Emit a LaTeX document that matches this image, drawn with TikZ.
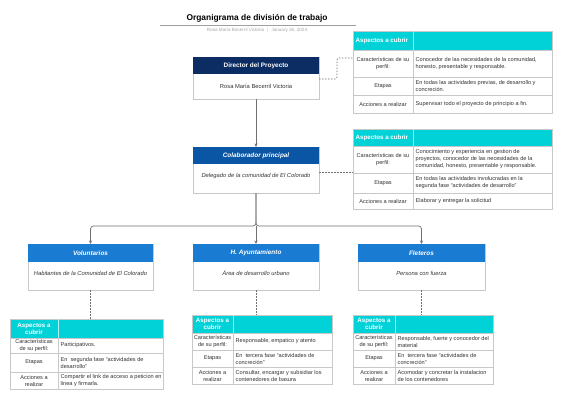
\documentclass[tikz,border=0pt]{standalone}
\usepackage{fontspec}
\setmainfont{Liberation Sans}
\usetikzlibrary{arrows.meta}
\definecolor{navy}{HTML}{0C2D63}
\definecolor{midblue}{HTML}{0B56A4}
\definecolor{brightblue}{HTML}{1A7BD3}
\definecolor{aqua}{HTML}{00D2D8}
\definecolor{gridgray}{HTML}{C8C8C8}
\definecolor{linegray}{HTML}{707070}
\definecolor{txt}{HTML}{333333}
\tikzset{
  boxbody/.style={draw=gridgray, line width=0.6pt, fill=white},
  hdrtext/.style={font=\fontsize{6.4}{7.4}\selectfont\bfseries, text=white},
  hdrit/.style={font=\fontsize{6.4}{7.4}\selectfont\bfseries\itshape, text=white},
  bodytext/.style={font=\fontsize{5.8}{6.8}\selectfont, text=txt},
  bodyit/.style={font=\fontsize{5.8}{6.8}\selectfont\itshape, text=txt},
  cellc/.style={font=\fontsize{5.6}{7}\selectfont, text=txt, align=center, inner sep=0.5pt},
  celll/.style={font=\fontsize{5.6}{7}\selectfont, text=txt, align=left, anchor=west, inner sep=0.5pt},
  tabhdr/.style={font=\fontsize{6.2}{7.2}\selectfont\bfseries, text=white, align=center, inner sep=0.5pt},
  grid/.style={draw=gridgray, line width=0.6pt},
  conn/.style={draw=linegray, line width=0.7pt, -{Stealth[length=3.5pt,width=3pt]}},
  dconn/.style={draw=linegray, line width=0.7pt, dash pattern=on 1.5pt off 1.5pt},
}
\begin{document}
\begin{tikzpicture}[x=1pt,y=-1pt]
\useasboundingbox[fill=white] (0,0) rectangle (570,400);

% title
\node[font=\fontsize{8.4}{9.4}\selectfont\bfseries, text=black] (title) at (257,18.5) {Organigrama de división de trabajo};
\draw[gridgray!80!black, line width=0.6pt] (160,25.5) -- (356,25.5);
\node[font=\fontsize{4.6}{5}\selectfont, text=gray!70] (subtitle) at (257,30.5) {Rosa María Becerril Victoria \ $|$ \ January 26, 2024};

% Director
\draw[boxbody] (193,57) rectangle (319,99);
\fill[navy] (193,57) rectangle (319,74);
\node[hdrtext] (dirh) at (256,65.5) {Director del Proyecto};
\node[bodytext] (dirb) at (256,86) {Rosa María Becerril Victoria};
\coordinate (dirS) at (256,99);
\coordinate (dirE) at (319,79);

% Colaborador
\draw[boxbody] (193,147) rectangle (319,193);
\fill[midblue] (193,147) rectangle (319,164);
\node[hdrit] (colh) at (256,155.5) {Colaborador principal};
\node[bodyit] (colb) at (256,176) {Delegado de la comunidad de El Colorado};
\coordinate (colN) at (256,147);
\coordinate (colS) at (256,193);
\coordinate (colE) at (319,172);

% Lower boxes
\foreach \nm/\xa/\xb/\hd/\bd in {vol/28/153/Voluntarios/Habitantes de la Comunidad de El Colorado,
                                 ayu/193/319/H. Ayuntamiento/Área de desarrollo urbano,
                                 fle/358/485/Fleteros/Persona con fuerza}{
  \draw[boxbody] (\xa,244) rectangle (\xb,290);
  \fill[brightblue] (\xa,244) rectangle (\xb,262);
  \node[hdrit] (\nm h) at ({(\xa+\xb)/2},253) {\hd};
  \node[bodyit] (\nm b) at ({(\xa+\xb)/2},273) {\bd};
  \coordinate (\nm N) at ({(\xa+\xb)/2},244);
  \coordinate (\nm S) at ({(\xa+\xb)/2},290);
}

% ---------- tables ----------
% Table 1
\fill[aqua] (353,31) rectangle (552,50);
\draw[grid] (353,31) rectangle (552,113);
\draw[grid] (353,50) -- (552,50) (353,77) -- (552,77) (353,95) -- (552,95);
\draw[grid] (413,50) -- (413,113);
\draw[white!70!aqua, line width=0.6pt] (413,31) -- (413,50);
\node[tabhdr, anchor=west] (t1h) at (355,40.5) {Aspectos a cubrir};
\node[cellc] (t1a) at (383,63.5) {Características de su\\perfil:};
\node[celll] (t1b) at (415,63.5) {Conocedor de las necesidades de la comunidad,\\honesto, presentable y responsable.};
\node[cellc] (t1c) at (383,86) {Etapas};
\node[celll] (t1d) at (415,86) {En todas las actividades previas, de desarrollo y\\concreción.};
\node[cellc] (t1e) at (383,104) {Acciones a realizar};
\node[celll] (t1f) at (415,104) {Supervisar todo el proyecto de principio a fin.};
\coordinate (t1W) at (353,58);

% Table 2
\fill[aqua] (353,129) rectangle (552,146);
\draw[grid] (353,129) rectangle (552,209);
\draw[grid] (353,146) -- (552,146) (353,173) -- (552,173) (353,193) -- (552,193);
\draw[grid] (413,146) -- (413,209);
\draw[white!70!aqua, line width=0.6pt] (413,129) -- (413,146);
\node[tabhdr, anchor=west] (t2h) at (355,137.5) {Aspectos a cubrir};
\node[cellc] (t2a) at (383,159.5) {Características de su\\perfil:};
\node[celll] (t2b) at (415,159.5) {Conocimiento y experiencia en gestion de\\proyectos, conocedor de las necesidades de la\\comunidad, honesto, presentable y responsable.};
\node[cellc] (t2c) at (383,183) {Etapas};
\node[celll] (t2d) at (415,183) {En todas las actividades involucradas en la\\segunda fase ``actividades de desarrollo''};
\node[cellc] (t2e) at (383,201) {Acciones a realizar};
\node[celll] (t2f) at (415,201) {Elaborar y entregar la solicitud};
\coordinate (t2W) at (353,172);

% Table 3
\fill[aqua] (10,319) rectangle (163,338);
\draw[grid] (10,319) rectangle (163,389);
\draw[grid] (10,338) -- (163,338) (10,353) -- (163,353) (10,372) -- (163,372);
\draw[grid] (58,338) -- (58,389);
\draw[white!70!aqua, line width=0.6pt] (58,319) -- (58,338);
\node[tabhdr] (t3h) at (34,328.5) {Aspectos a\\cubrir};
\node[cellc] (t3a) at (34,345.5) {Características\\de su perfil:};
\node[celll] (t3b) at (60,345.5) {Participativos.};
\node[cellc] (t3c) at (34,362.5) {Etapas};
\node[celll] (t3d) at (60,362.5) {En \ segunda fase ``actividades de\\desarrollo''};
\node[cellc] (t3e) at (34,380.5) {Acciones a\\realizar};
\node[celll] (t3f) at (60,380.5) {Compartir el link de acceso a peticion en\\linea y firmarla.};
\coordinate (t3N) at (90.5,319);

% Table 4
\fill[aqua] (192,315) rectangle (332,333);
\draw[grid] (192,315) rectangle (332,384);
\draw[grid] (192,333) -- (332,333) (192,350) -- (332,350) (192,367) -- (332,367);
\draw[grid] (233,333) -- (233,384);
\draw[white!70!aqua, line width=0.6pt] (233,315) -- (233,333);
\node[tabhdr] (t4h) at (212.5,324) {Aspectos a\\cubrir};
\node[cellc] (t4a) at (212.5,341.5) {Características\\de su perfil:};
\node[celll] (t4b) at (235,341.5) {Responsable, empatico y atento};
\node[cellc] (t4c) at (212.5,358.5) {Etapas};
\node[celll] (t4d) at (235,358.5) {En \ tercera fase ``actividades de\\concreción''};
\node[cellc] (t4e) at (212.5,375.5) {Acciones a\\realizar};
\node[celll] (t4f) at (235,375.5) {Consultar, encargar y subsidiar los\\contenedores de basura};
\coordinate (t4N) at (256,315);

% Table 5
\fill[aqua] (353,315) rectangle (493,333);
\draw[grid] (353,315) rectangle (493,384);
\draw[grid] (353,333) -- (493,333) (353,350) -- (493,350) (353,367) -- (493,367);
\draw[grid] (395,333) -- (395,384);
\draw[white!70!aqua, line width=0.6pt] (395,315) -- (395,333);
\node[tabhdr] (t5h) at (374,324) {Aspectos a\\cubrir};
\node[cellc] (t5a) at (374,341.5) {Características\\de su perfil:};
\node[celll] (t5b) at (397,341.5) {Responsable, fuerte y conocedor del\\material};
\node[cellc] (t5c) at (374,358.5) {Etapas};
\node[celll] (t5d) at (397,358.5) {En \ tercera fase ``actividades de\\concreción''};
\node[cellc] (t5e) at (374,375.5) {Acciones a\\realizar};
\node[celll] (t5f) at (397,375.5) {Acomodar y concretar la instalacion\\de los contenedores};
\coordinate (t5N) at (421.5,315);

% ---------- connectors ----------
\draw[conn] (dirS) -- (colN);
\coordinate (br) at (256,226);
\draw[conn, rounded corners=3pt] (colS) -- (br) -| (volN);
\draw[conn, rounded corners=3pt] (colS) -- (br) -| (fleN);
\draw[conn] (br) -- (ayuN);

\draw[dconn, rounded corners=2pt] (dirE) -- (337,79) -- (337,58) -- (t1W);
\draw[dconn] (colE) -- (t2W);
\draw[dconn] (volS) -- (t3N);
\draw[dconn] (ayuS) -- (t4N);
\draw[dconn] (fleS) -- (t5N);
\end{tikzpicture}
\end{document}
